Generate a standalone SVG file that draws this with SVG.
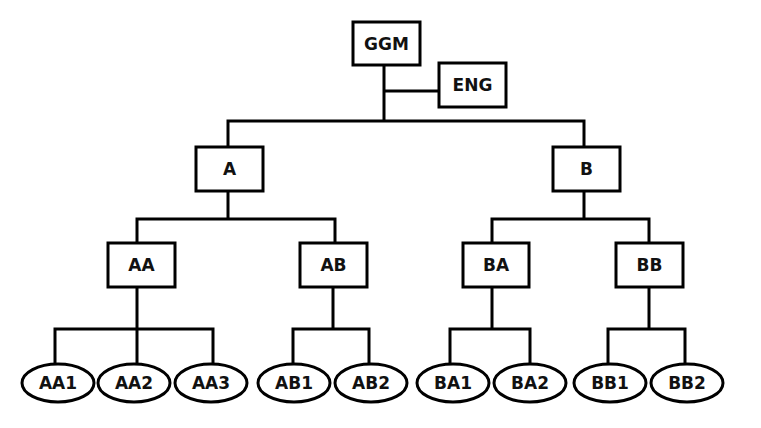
<svg xmlns="http://www.w3.org/2000/svg" width="761" height="428" viewBox="0 0 761 428">
<style>
.box{fill:#fff;stroke:#000;stroke-width:3}
.ov{fill:#fff;stroke:#000;stroke-width:3}
.ln{fill:none;stroke:#000;stroke-width:3;stroke-linecap:square}
text{font-family:"DejaVu Sans","Liberation Sans",sans-serif;font-weight:bold;font-size:17px;text-anchor:middle;dominant-baseline:central;fill:#111}
</style>
<rect width="761" height="428" fill="#fff"/>
<g id="connectors">
<path class="ln" d="M384 65V121M384 91H439M228 121H584M228 121V147M584 121V147"/>
<path class="ln" d="M228 191V219M137 219H335M137 219V243M335 219V243"/>
<path class="ln" d="M584 191V219M492 219H649M492 219V243M649 219V243"/>
<path class="ln" d="M137 287V329M55 329H213M55 329V364M137 329V364M213 329V364"/>
<path class="ln" d="M333 287V329M293 329H369M293 329V364M369 329V364"/>
<path class="ln" d="M492 287V329M450 329H530M450 329V364M530 329V364"/>
<path class="ln" d="M649 287V329M608 329H685M608 329V364M685 329V364"/>
</g>
<g id="GGM"><rect class="box" x="353" y="22" width="67" height="43"/><text x="386.5" y="44">GGM</text></g>
<g id="ENG"><rect class="box" x="439" y="63" width="67" height="44"/><text x="472.5" y="85">ENG</text></g>
<g id="A"><rect class="box" x="196" y="147" width="67" height="44"/><text x="229.5" y="169">A</text></g>
<g id="B"><rect class="box" x="553" y="147" width="67" height="44"/><text x="586.5" y="169">B</text></g>
<g id="AA"><rect class="box" x="108" y="243" width="67" height="44"/><text x="141.5" y="265">AA</text></g>
<g id="AB"><rect class="box" x="300" y="243" width="67" height="44"/><text x="333.5" y="265">AB</text></g>
<g id="BA"><rect class="box" x="463" y="243" width="66" height="44"/><text x="496" y="265">BA</text></g>
<g id="BB"><rect class="box" x="616" y="243" width="67" height="44"/><text x="649.5" y="265">BB</text></g>
<g id="AA1"><ellipse class="ov" cx="58" cy="383" rx="36" ry="19"/><text x="58" y="383">AA1</text></g>
<g id="AA2"><ellipse class="ov" cx="134" cy="383" rx="36" ry="19"/><text x="134" y="383">AA2</text></g>
<g id="AA3"><ellipse class="ov" cx="211" cy="383" rx="36" ry="19"/><text x="211" y="383">AA3</text></g>
<g id="AB1"><ellipse class="ov" cx="294" cy="383" rx="36" ry="19"/><text x="294" y="383">AB1</text></g>
<g id="AB2"><ellipse class="ov" cx="371" cy="383" rx="36" ry="19"/><text x="371" y="383">AB2</text></g>
<g id="BA1"><ellipse class="ov" cx="453" cy="383" rx="36" ry="19"/><text x="453" y="383">BA1</text></g>
<g id="BA2"><ellipse class="ov" cx="530" cy="383" rx="36" ry="19"/><text x="530" y="383">BA2</text></g>
<g id="BB1"><ellipse class="ov" cx="610" cy="383" rx="36" ry="19"/><text x="610" y="383">BB1</text></g>
<g id="BB2"><ellipse class="ov" cx="687" cy="383" rx="36" ry="19"/><text x="687" y="383">BB2</text></g>
</svg>
